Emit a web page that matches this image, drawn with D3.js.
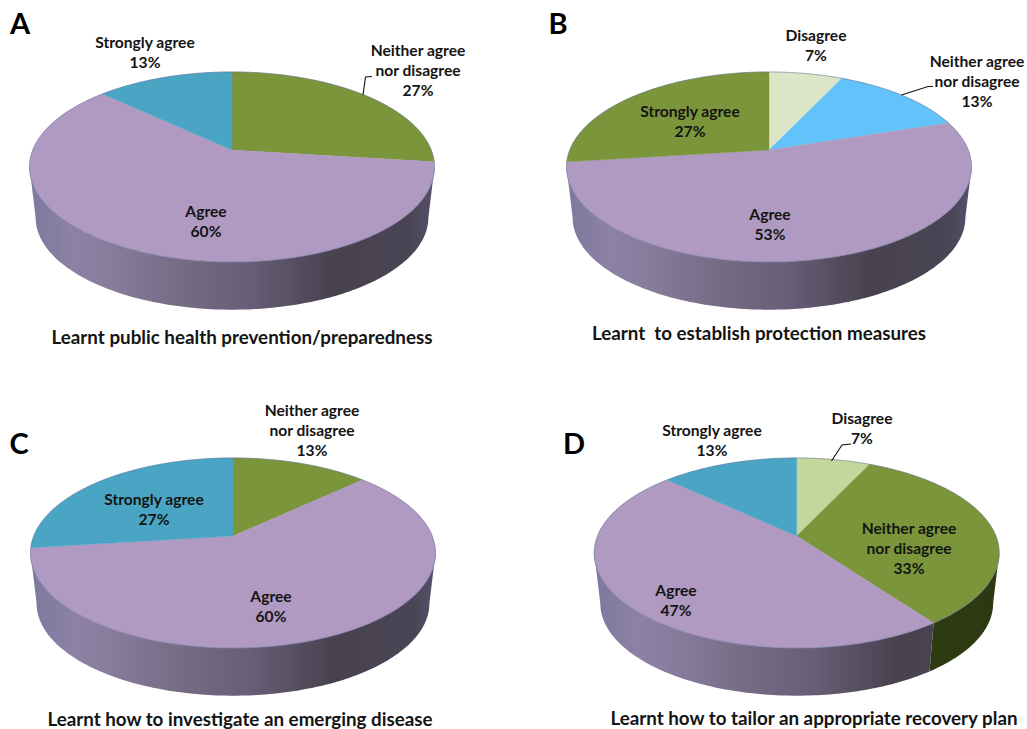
<!DOCTYPE html>
<html>
<head>
<meta charset="utf-8">
<title>Learning outcomes by agreement level</title>
<script src="https://cdn.jsdelivr.net/npm/d3@7"></script>
<style>
  html, body { margin: 0; padding: 0; background: #fff; }
  svg { display: block; }
  text { font-family: Lato, "Open Sans", sans-serif; font-weight: 700; }
</style>
</head>
<body>
<svg id="chart" width="1027" height="729"></svg>
<script>
// Survey responses, clockwise from twelve o'clock, one set of arrays per panel.
const panelLetters = ["A", "B", "C", "D"];
const panelTitles = [
  "Learnt public health prevention/preparedness",
  "Learnt  to establish protection measures",
  "Learnt how to investigate an emerging disease",
  "Learnt how to tailor an appropriate recovery plan"
];
const categoriesA = ["Neither agree nor disagree", "Agree", "Strongly agree"];
const valuesA = [27, 60, 13];
const categoriesB = ["Disagree", "Neither agree nor disagree", "Agree", "Strongly agree"];
const valuesB = [7, 13, 53, 27];
const categoriesC = ["Neither agree nor disagree", "Agree", "Strongly agree"];
const valuesC = [13, 60, 27];
const categoriesD = ["Disagree", "Neither agree nor disagree", "Agree", "Strongly agree"];
const valuesD = [7, 33, 47, 13];

// Slice fills per panel, in the same order as the values.
const fillsA = ["#7a953a", "#b09ac2", "#4aa5c4"];
const fillsB = ["#dce5c6", "#62c3fa", "#b09ac2", "#7a953a"];
const fillsC = ["#7a953a", "#b09ac2", "#4aa5c4"];
const fillsD = ["#c3d69b", "#7a953a", "#b09ac2", "#4aa5c4"];

// Layout of each panel: disk centre, label anchors (centre x, centre y of first line), title, letter.
const layouts = [
  { cx: 232, cy: 150, letter: [20, 24], title: [242, 337],
    labels: [[418, 51], [206, 212], [145, 43]],
    leader: [[363, 95], [365.5, 77], [372, 76.5]] },
  { cx: 769, cy: 150, letter: [558, 24], title: [759, 333],
    labels: [[816, 36], [977, 62], [770, 215], [690, 112]],
    leader: [[901.5, 95], [928, 86.5], [933, 86.5]] },
  { cx: 233, cy: 536, letter: [19, 444], title: [240, 719],
    labels: [[312, 410.5], [271, 597], [154, 500]],
    leader: null },
  { cx: 796.7, cy: 536, letter: [574, 444], title: [814, 718],
    labels: [[862, 419], [909, 529], [676, 591], [712, 431]],
    leader: [[831.5, 461], [842, 445], [851, 444]] }
];

// Perspective model of the tilted disk: a point at clock angle t on the rim
// maps to (b sin t, a (-cos t)) / (1 + k cos t), nearer rim points spreading further.
const persp = { a: 92, b: 199.2, k: 0.179 };
const wall = { drop: 51, shrink: 0.97 };

// Clock angles where the rim turns from back to front: the wall shows only between them.
const wallStart = Math.acos(-persp.k);
const wallEnd = 2 * Math.PI - wallStart;

const rim = (panel, t, floor) => {
  const c = Math.cos(t), s = Math.sin(t);
  const d = 1 + persp.k * c;
  const scale = floor ? wall.shrink : 1;
  return [
    panel.cx + scale * persp.b * s / d,
    panel.cy + (floor ? wall.drop : 0) - scale * persp.a * c / d
  ];
};
const sweep = (a0, a1) => {
  const n = Math.max(2, Math.ceil((a1 - a0) / (Math.PI / 180)));
  return d3.range(n + 1).map(i => a0 + (a1 - a0) * i / n);
};

const svg = d3.select("#chart");
const defs = svg.append("defs");
const line = d3.line();
const pie = d3.pie().sort(null).startAngle(0).endAngle(2 * Math.PI);

// Horizontal shading of the side wall for one slice colour.
function wallGradient(id, panel, stops) {
  const g = defs.append("linearGradient").attr("id", id)
    .attr("gradientUnits", "userSpaceOnUse")
    .attr("x1", panel.cx - 200).attr("x2", panel.cx + 200)
    .attr("y1", 0).attr("y2", 0);
  stops.forEach(([o, c]) => g.append("stop").attr("offset", o).attr("stop-color", c));
  return `url(#${id})`;
}
const purpleWall = [[0, "#7b7a9e"], [0.1, "#8d82a5"], [0.2, "#877c9b"], [0.4, "#736981"], [0.55, "#675d76"], [0.75, "#48424f"], [0.95, "#4a4555"], [1, "#55506a"]];
const greenWall = [[0, "#3a4818"], [1, "#2c3811"]];
const plainWall = [[0, "#777"], [1, "#444"]];

const series = [
  [categoriesA, valuesA, fillsA],
  [categoriesB, valuesB, fillsB],
  [categoriesC, valuesC, fillsC],
  [categoriesD, valuesD, fillsD]
];

series.forEach(([cats, vals, fills], idx) => {
  const panel = layouts[idx];
  const slices = pie(vals);
  const g = svg.append("g").attr("class", "panel-" + panelLetters[idx]);
  const purple = wallGradient("wall-purple-" + idx, panel, purpleWall);
  const green = wallGradient("wall-green-" + idx, panel, greenWall);
  const other = wallGradient("wall-other-" + idx, panel, plainWall);
  const wallFill = d => fills[d.index] === "#b09ac2" ? purple : fills[d.index] === "#7a953a" ? green : other;

  // Side walls first, only for the part of each slice that faces the viewer.
  g.selectAll("path.wall")
    .data(slices.filter(d => d.endAngle > wallStart && d.startAngle < wallEnd))
    .join("path")
    .attr("class", "wall")
    .attr("fill", wallFill)
    .attr("d", d => {
      const ts = sweep(Math.max(d.startAngle, wallStart), Math.min(d.endAngle, wallEnd));
      return line([...ts.map(t => rim(panel, t, false)), ...ts.slice().reverse().map(t => rim(panel, t, true))]) + "Z";
    });

  // Top face, each slice running from the pin point round its rim arc.
  g.selectAll("path.face").data(slices).join("path")
    .attr("class", "face")
    .attr("fill", d => fills[d.index])
    .attr("stroke", d => fills[d.index])
    .attr("stroke-width", 0.4)
    .attr("d", d => line([[panel.cx, panel.cy], ...sweep(d.startAngle, d.endAngle).map(t => rim(panel, t, false))]) + "Z");

  // Thin slate edge around the disk.
  g.append("path")
    .attr("fill", "none")
    .attr("stroke", "#5f6f96")
    .attr("stroke-opacity", 0.6)
    .attr("stroke-width", 0.9)
    .attr("d", line(sweep(0, 2 * Math.PI).map(t => rim(panel, t, false))) + "Z");

  if (panel.leader) {
    g.append("path").attr("fill", "none").attr("stroke", "#111").attr("stroke-width", 1.1)
      .attr("d", line(panel.leader));
  }

  // Category and percentage labels, split over lines.
  slices.forEach((d, i) => {
    const name = cats[i];
    const lines = name === "Neither agree nor disagree"
      ? ["Neither agree", "nor disagree", d.value + "%"]
      : [name, d.value + "%"];
    const [lx, ly] = panel.labels[i];
    const t = g.append("text").attr("text-anchor", "middle").attr("font-size", 15.6)
      .attr("fill", "#141414");
    lines.forEach((s, j) => {
      t.append("tspan").attr("x", lx).attr("y", ly + j * 20 + 5).text(s);
    });
  });

  g.append("text").attr("text-anchor", "middle").attr("font-size", 18.8).attr("fill", "#141414")
    .attr("x", panel.title[0]).attr("y", panel.title[1] + 6.5)
    .style("white-space", "pre")
    .text(panelTitles[idx]);

  g.append("text").attr("text-anchor", "middle").attr("font-size", 29)
    .attr("x", panel.letter[0]).attr("y", panel.letter[1] + 10)
    .attr("fill", "#000").text(panelLetters[idx]);
});
</script>
</body>
</html>
